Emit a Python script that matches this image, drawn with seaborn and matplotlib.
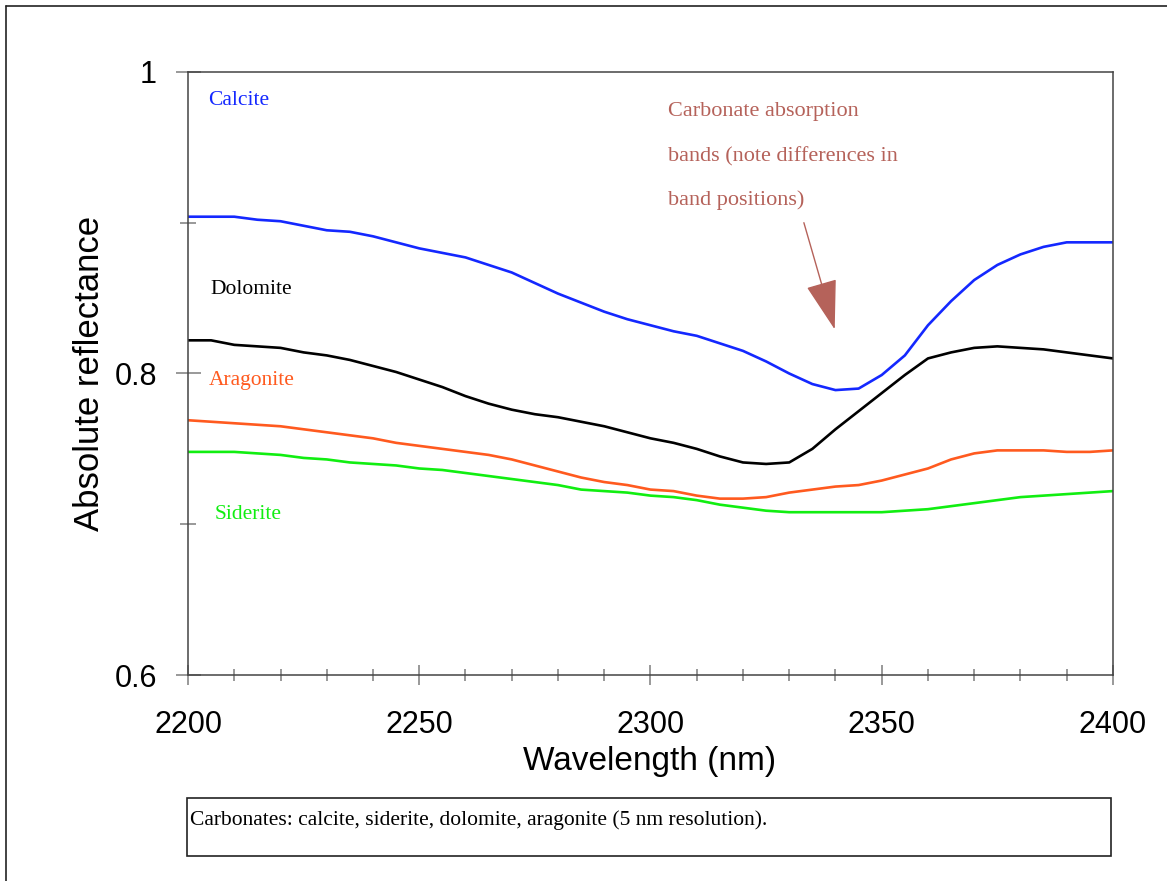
import numpy as np
import pandas as pd
import seaborn as sns
import matplotlib.pyplot as plt
from matplotlib.lines import Line2D
from matplotlib.patches import Rectangle, FancyArrowPatch
from matplotlib.ticker import MultipleLocator, FixedLocator, FixedFormatter

# datos (resolucion 5 nm)
wavelength = list(range(2200, 2401, 5))

calcite = [0.904, 0.904, 0.904, 0.902, 0.901, 0.898, 0.895, 0.894, 0.891, 0.887,
           0.883, 0.880, 0.877, 0.872, 0.867, 0.860, 0.853, 0.847, 0.841, 0.836,
           0.832, 0.828, 0.825, 0.820, 0.815, 0.808, 0.800, 0.793, 0.789, 0.790,
           0.799, 0.812, 0.832, 0.848, 0.862, 0.872, 0.879, 0.884, 0.887, 0.887,
           0.887]
dolomite = [0.822, 0.822, 0.819, 0.818, 0.817, 0.814, 0.812, 0.809, 0.805, 0.801,
            0.796, 0.791, 0.785, 0.780, 0.776, 0.773, 0.771, 0.768, 0.765, 0.761,
            0.757, 0.754, 0.750, 0.745, 0.741, 0.740, 0.741, 0.750, 0.763, 0.775,
            0.787, 0.799, 0.810, 0.814, 0.817, 0.818, 0.817, 0.816, 0.814, 0.812,
            0.810]
aragonite = [0.769, 0.768, 0.767, 0.766, 0.765, 0.763, 0.761, 0.759, 0.757, 0.754,
             0.752, 0.750, 0.748, 0.746, 0.743, 0.739, 0.735, 0.731, 0.728, 0.726,
             0.723, 0.722, 0.719, 0.717, 0.717, 0.718, 0.721, 0.723, 0.725, 0.726,
             0.729, 0.733, 0.737, 0.743, 0.747, 0.749, 0.749, 0.749, 0.748, 0.748,
             0.749]
siderite = [0.748, 0.748, 0.748, 0.747, 0.746, 0.744, 0.743, 0.741, 0.740, 0.739,
            0.737, 0.736, 0.734, 0.732, 0.730, 0.728, 0.726, 0.723, 0.722, 0.721,
            0.719, 0.718, 0.716, 0.713, 0.711, 0.709, 0.708, 0.708, 0.708, 0.708,
            0.708, 0.709, 0.710, 0.712, 0.714, 0.716, 0.718, 0.719, 0.720, 0.721,
            0.722]

minerals = ["Calcite", "Dolomite", "Aragonite", "Siderite"]
colores = {"Calcite": "#1428ff", "Dolomite": "#000000",
           "Aragonite": "#ff5a1f", "Siderite": "#11ee11"}

x_ticks = [2200, 2250, 2300, 2350, 2400]
y_ticks = [0.6, 0.8, 1.0]
y_tick_labels = ["0.6", "0.8", "1"]

nota_lineas = ["Carbonate absorption", "bands (note differences in",
               "band positions)"]

df = pd.DataFrame({
    "wavelength": wavelength * 4,
    "reflectance": calcite + dolomite + aragonite + siderite,
    "mineral": sum([[m] * len(wavelength) for m in minerals], []),
})

sns.set_style("white")
plt.rcParams["font.family"] = ["Liberation Sans", "DejaVu Sans"]

fig = plt.figure(figsize=(11.67, 8.81), dpi=100)
ax = fig.add_axes([0.1611, 0.2338, 0.7926, 0.6845])

sns.lineplot(data=df, x="wavelength", y="reflectance", hue="mineral",
             palette=colores, linewidth=1.9, legend=False, ax=ax)

ax.set_xlim(2200, 2400)
ax.set_ylim(0.6, 1.0)

# ejes y marcas
for s in ax.spines.values():
    s.set_color("#444444")
    s.set_linewidth(1.1)

ax.xaxis.set_major_locator(FixedLocator(x_ticks))
ax.xaxis.set_minor_locator(MultipleLocator(10))
ax.yaxis.set_major_locator(FixedLocator(y_ticks))
ax.yaxis.set_major_formatter(FixedFormatter(y_tick_labels))
ax.yaxis.set_minor_locator(FixedLocator([0.7, 0.9]))

gris = "#888888"
ax.tick_params(axis="x", which="major", direction="inout", length=15, width=1.2,
               color=gris, labelsize=22, pad=17.5, bottom=True,
               labelcolor="black")
ax.tick_params(axis="x", which="minor", direction="inout", length=9, width=1.2,
               color=gris, bottom=True)
ax.tick_params(axis="y", which="major", direction="inout", length=18, width=1.2,
               color=gris, labelsize=22, pad=13.3, left=True,
               labelcolor="black")
ax.tick_params(axis="y", which="minor", direction="inout", length=12, width=1.2,
               color=gris, left=True)

ax.set_xlabel("Wavelength (nm)", fontsize=24, color="black")
ax.set_ylabel("Absolute reflectance", fontsize=25, color="black")
ax.xaxis.set_label_coords(0.4995, -0.144)
ax.xaxis.label.set_va("center")
ax.yaxis.set_label_coords(-0.107, 0.5)
ax.yaxis.label.set_va("center")

# etiquetas de cada mineral
serif = ["Liberation Serif", "DejaVu Serif"]
etiquetas = [("Calcite", 2204.3, 0.9814), ("Dolomite", 2204.8, 0.8560),
             ("Aragonite", 2204.5, 0.7956), ("Siderite", 2205.8, 0.7068)]
for nombre, xt, yt in etiquetas:
    ax.text(xt, yt, nombre, color=colores[nombre], fontsize=15.5,
            family=serif, ha="left", va="center")

nota_color = "#b5625a"
for linea, yt in zip(nota_lineas, [0.9741, 0.9436, 0.9151]):
    ax.text(2303.8, yt, linea, color=nota_color, fontsize=16, family=serif,
            ha="left", va="center")
flecha = FancyArrowPatch((2333.0, 0.9018), (2340.0, 0.8275),
                         arrowstyle="-|>,head_length=1.6,head_width=0.5",
                         mutation_scale=20, color=nota_color, linewidth=1)
ax.add_patch(flecha)

# recuadro de la leyenda inferior
fig.add_artist(Rectangle((187 / 1167, 1 - 856 / 881), 924 / 1167, 58 / 881,
                         transform=fig.transFigure, fill=False,
                         edgecolor="#222222", linewidth=1.2))
fig.text(190 / 1167, 1 - 820 / 881,
         "Carbonates: calcite, siderite, dolomite, aragonite (5 nm resolution).",
         fontsize=15.5, family=serif, ha="left", va="center", color="black")

# marco exterior (solo arriba e izquierda)
fig.add_artist(Line2D([5.5 / 1167, 1], [1 - 5.5 / 881, 1 - 5.5 / 881],
                      transform=fig.transFigure, color="#222222", linewidth=1.2))
fig.add_artist(Line2D([5.5 / 1167, 5.5 / 1167], [0, 1 - 5.5 / 881],
                      transform=fig.transFigure, color="#222222", linewidth=1.2))

fig.savefig("out.png", dpi=100)
